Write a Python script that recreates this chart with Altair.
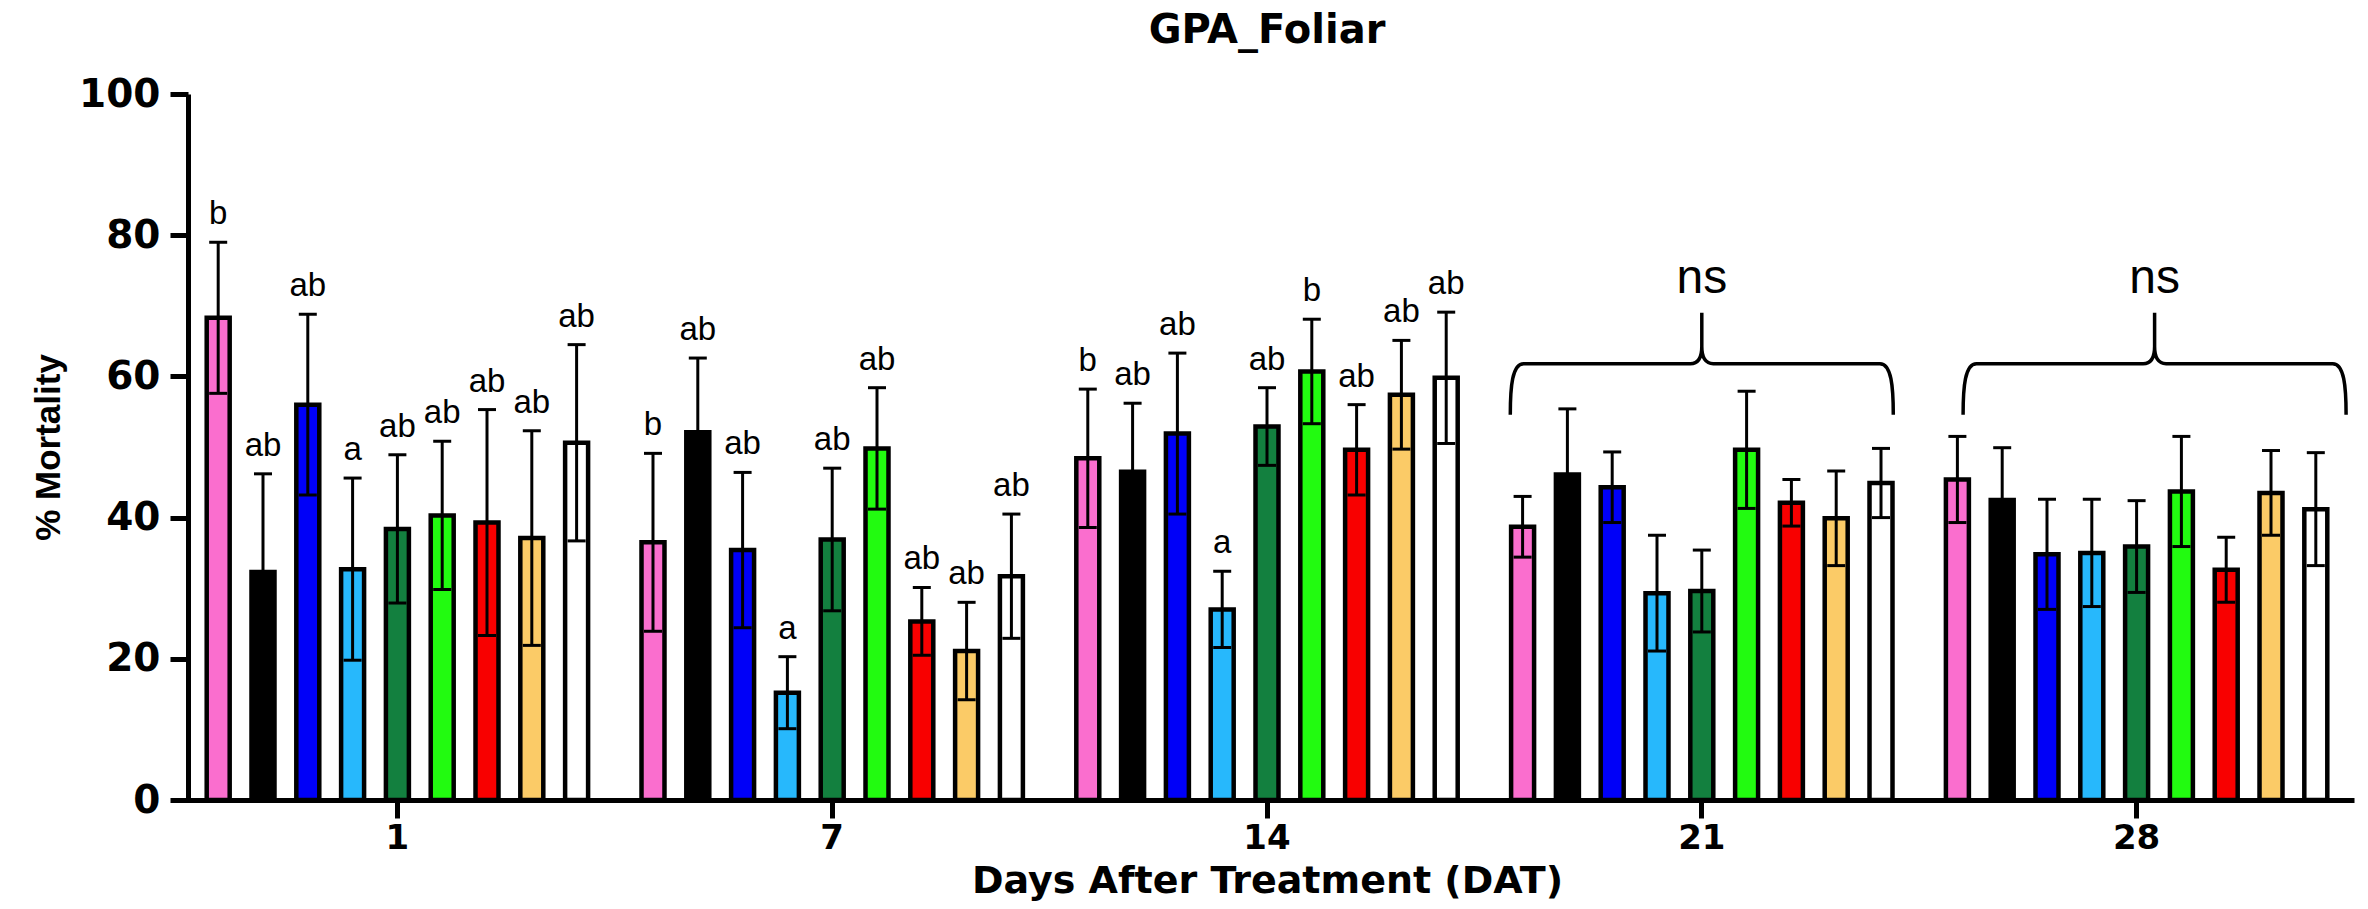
import altair as alt
import pandas as pd

# ---------------- data ----------------
days = ["1", "7", "14", "21", "28"]
treatments = ["T1", "T2", "T3", "T4", "T5", "T6", "T7", "T8", "T9"]
colors = ["#FA6ECE", "#000000", "#0000F8", "#27B8FC", "#13803F",
          "#22FB10", "#F80000", "#FBCB67", "#FFFFFF"]

mean_d1 = [68.3, 32.3, 56.0, 32.7, 38.4, 40.3, 39.3, 37.1, 50.6]
sd_d1 = [10.7, 13.9, 12.8, 12.9, 10.5, 10.5, 16.0, 15.2, 13.9]
mean_d7 = [36.5, 52.1, 35.4, 15.2, 36.9, 49.8, 25.3, 21.1, 31.7]
sd_d7 = [12.6, 10.5, 11.0, 5.1, 10.1, 8.6, 4.8, 6.9, 8.8]
mean_d14 = [48.4, 46.5, 51.9, 27.0, 52.9, 60.7, 49.6, 57.4, 59.8]
sd_d14 = [9.8, 9.7, 11.4, 5.4, 5.5, 7.4, 6.4, 7.7, 9.3]
mean_d21 = [38.7, 46.1, 44.3, 29.3, 29.6, 49.6, 42.1, 39.9, 44.9]
sd_d21 = [4.3, 9.3, 5.0, 8.2, 5.8, 8.3, 3.3, 6.7, 4.9]
mean_d28 = [45.4, 42.5, 34.8, 35.0, 35.9, 43.7, 32.6, 43.5, 41.2]
sd_d28 = [6.1, 7.4, 7.8, 7.6, 6.5, 7.8, 4.6, 6.0, 8.0]

letters_d1 = ["b", "ab", "ab", "a", "ab", "ab", "ab", "ab", "ab"]
letters_d7 = ["b", "ab", "ab", "a", "ab", "ab", "ab", "ab", "ab"]
letters_d14 = ["b", "ab", "ab", "a", "ab", "b", "ab", "ab", "ab"]
letters_d21 = [""] * 9
letters_d28 = [""] * 9

ns_days = ["21", "28"]
ns_labels = ["ns", "ns"]
brace_level = [61.8, 61.8]
ns_level = [71.8, 71.8]

means = [mean_d1, mean_d7, mean_d14, mean_d21, mean_d28]
sds = [sd_d1, sd_d7, sd_d14, sd_d21, sd_d28]
letters = [letters_d1, letters_d7, letters_d14, letters_d21, letters_d28]

rows = []
for d, m_list, s_list, l_list in zip(days, means, sds, letters):
    for t, m, s, l in zip(treatments, m_list, s_list, l_list):
        rows.append({"day": d, "treatment": t, "mean": m, "sd": s, "letter": l})
df = pd.DataFrame(rows)

ann = pd.DataFrame({"day": ns_days, "label": ns_labels,
                    "brace": brace_level, "ns": ns_level})

# ---------------- styles ----------------
BOLD = "DejaVu Sans"
BRACE = ("M -1 0.266 C -1 0.12 -0.99 0 -0.93 0 L -0.06 0 "
         "C -0.02 0 0 -0.03 0 -0.09 L 0 -0.266 "
         "M 0 -0.09 C 0 -0.03 0.02 0 0.06 0 L 0.93 0 "
         "C 0.99 0 1 0.12 1 0.266")

x_enc = alt.X(
    "day:N", sort=days,
    scale=alt.Scale(paddingInner=0, paddingOuter=0),
    axis=alt.Axis(
        title="Days After Treatment (DAT)", labelAngle=0,
        labelFont=BOLD, labelFontWeight="bold", labelFontSize=34,
        labelPadding=3, titleFont=BOLD, titleFontWeight="bold",
        titleFontSize=38, titlePadding=7, tickSize=18, tickWidth=5,
        domainWidth=5, domainColor="black", tickColor="black",
        labelColor="black", titleColor="black", grid=False,
    ),
)
xoff_enc = alt.XOffset("treatment:N", sort=treatments,
                       scale=alt.Scale(paddingInner=0.487, paddingOuter=0.596))

y_scale = alt.Scale(domain=[0, 100], nice=False)
y_axis = alt.Axis(
    title="% Mortality", values=[0, 20, 40, 60, 80, 100], offset=-8,
    labelFont=BOLD, labelFontWeight="bold", labelFontSize=39,
    labelPadding=10, titleFont="Liberation Sans",
    titleFontWeight="bold", titleFontSize=35, titlePadding=12,
    tickSize=18, tickWidth=5, domainWidth=5, domainColor="black",
    tickColor="black", labelColor="black", titleColor="black", grid=False,
)

base = alt.Chart(df).transform_calculate(
    lo="datum.mean - datum.sd", hi="datum.mean + datum.sd"
).encode(x=x_enc, xOffset=xoff_enc)

bars = base.mark_bar(stroke="black", strokeWidth=4.5, opacity=1).encode(
    y=alt.Y("mean:Q", scale=y_scale, axis=y_axis),
    color=alt.Color("treatment:N", scale=alt.Scale(domain=treatments, range=colors),
                    legend=None),
)
err = base.mark_rule(color="black", strokeWidth=3).encode(
    y=alt.Y("lo:Q"), y2="hi:Q")
cap_hi = base.mark_tick(orient="horizontal", size=18, thickness=3,
                        color="black", opacity=1).encode(y="hi:Q")
cap_lo = base.mark_tick(orient="horizontal", size=18, thickness=3,
                        color="black", opacity=1).encode(y="lo:Q")
txt = base.mark_text(baseline="alphabetic", dy=-18, font="Liberation Sans",
                     fontSize=33, color="black").encode(y="hi:Q", text="letter:N")

ann_layers = []
for d, shift in zip(ns_days, [0, 18]):
    a = alt.Chart(ann).transform_filter(alt.datum.day == d)
    ann_layers.append(
        a.mark_point(shape=BRACE, size=146689, filled=False, stroke="black",
                     strokeWidth=3.5, opacity=1, xOffset=shift)
        .encode(x=alt.X("day:N", sort=days), y=alt.Y("brace:Q"))
    )
    ann_layers.append(
        a.mark_text(baseline="alphabetic", font="Liberation Sans", fontSize=48,
                    color="black", dx=shift)
        .encode(x=alt.X("day:N", sort=days), y=alt.Y("ns:Q"), text="label:N")
    )

chart = alt.layer(bars, err, cap_hi, cap_lo, txt, *ann_layers).properties(
    width=2174, height=706,
    padding={"left": 180, "top": 94, "right": 14, "bottom": 109},
    autosize="none",
    title=alt.Title("GPA_Foliar", font=BOLD, fontWeight="bold", fontSize=40,
                    anchor="middle", offset=24, color="black"),
).configure_view(stroke=None)

chart.save("out.html", embed_options={"renderer": "svg", "actions": False})
